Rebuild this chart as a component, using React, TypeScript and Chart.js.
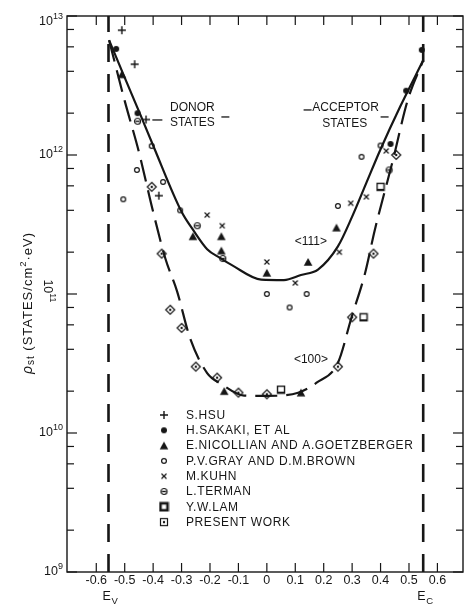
import React, { useEffect, useRef } from 'react';
import { Chart, registerables } from 'chart.js';

Chart.register(...registerables);

const INK = '#161616';
const FONT = '"Liberation Sans", Arial, sans-serif';

// Energy axis (eV, measured from midgap) and state-density axis
const X_MIN = -0.703;
const X_MAX = 0.69;
const Y_MIN = 1e9;
const Y_MAX = 1e13;

const X_TICKS = [-0.6, -0.5, -0.4, -0.3, -0.2, -0.1, 0, 0.1, 0.2, 0.3, 0.4, 0.5, 0.6];
const X_TICK_LABELS = ['-0.6', '-0.5', '-0.4', '-0.3', '-0.2', '-0.1', '0', '0.1', '0.2', '0.3', '0.4', '0.5', '0.6'];
const Y_DECADES = [9, 10, 11, 12, 13];
const Y_MINOR_MULTIPLES = [2, 4, 6, 8];

// Band edges
const E_V = -0.557;
const E_C = 0.55;

type Pt = [number, number];

// Measured points, one array per source
const HSU: Pt[] = [[-0.51, 7.9e12], [-0.465, 4.5e12], [-0.425, 1.8e12], [-0.38, 5.1e11]];
const SAKAKI: Pt[] = [[-0.53, 5.8e12], [-0.455, 2.0e12], [0.435, 1.2e12], [0.49, 2.9e12], [0.545, 5.7e12]];
const NICOLLIAN: Pt[] = [
  [-0.51, 3.8e12], [-0.26, 2.6e11], [-0.16, 2.6e11], [-0.16, 2.05e11], [0, 1.42e11],
  [0.145, 1.7e11], [0.245, 3.0e11], [-0.15, 2.0e10], [0.12, 1.95e10],
];
const GRAY_BROWN: Pt[] = [
  [-0.505, 4.8e11], [-0.457, 7.8e11], [-0.405, 1.16e12], [-0.365, 6.4e11], [-0.305, 4.0e11],
  [0, 1.0e11], [0.08, 8.0e10], [0.14, 1.0e11], [0.25, 4.3e11], [0.333, 9.7e11], [0.4, 1.17e12],
];
const KUHN: Pt[] = [
  [-0.21, 3.7e11], [-0.157, 3.1e11], [0, 1.7e11], [0.1, 1.2e11], [0.255, 2.0e11],
  [0.295, 4.5e11], [0.35, 5.0e11], [0.42, 1.07e12],
];
const TERMAN: Pt[] = [[-0.455, 1.75e12], [-0.245, 3.1e11], [-0.155, 1.8e11], [0.43, 7.8e11]];
const LAM: Pt[] = [[0.05, 2.05e10], [0.34, 6.8e10], [0.4, 5.9e11]];
const PRESENT: Pt[] = [
  [-0.405, 5.9e11], [-0.37, 1.95e11], [-0.34, 7.7e10], [-0.3, 5.7e10], [-0.25, 3.0e10],
  [-0.175, 2.5e10], [-0.1, 1.95e10], [0, 1.9e10], [0.25, 3.0e10], [0.3, 6.8e10],
  [0.375, 1.95e11], [0.455, 1.0e12],
];

// Fitted curves for the two orientations
const CURVE_111: Pt[] = [
  [-0.555, 6.7e12], [-0.5, 3.6e12], [-0.445, 1.95e12], [-0.4, 1.17e12], [-0.3, 3.9e11],
  [-0.26, 2.9e11], [-0.21, 2.1e11], [-0.165, 1.82e11], [-0.12, 1.6e11], [-0.02, 1.27e11],
  [0.06, 1.26e11], [0.12, 1.37e11], [0.18, 1.5e11], [0.25, 2.2e11], [0.3, 3.6e11],
  [0.35, 6.3e11], [0.4, 1.1e12], [0.47, 2.25e12], [0.55, 4.8e12],
];
const CURVE_100: Pt[] = [
  [-0.555, 6.7e12], [-0.5, 2.45e12], [-0.45, 1.05e12], [-0.4, 3.9e11], [-0.357, 1.8e11],
  [-0.316, 1.05e11], [-0.27, 4.8e10], [-0.21, 2.7e10], [-0.16, 2.25e10], [-0.08, 1.86e10],
  [0, 1.85e10], [0.11, 1.95e10], [0.175, 2.3e10], [0.25, 3.2e10], [0.298, 6.8e10],
  [0.345, 1.4e11], [0.38, 2.9e11], [0.443, 9.1e11], [0.496, 2.5e12], [0.55, 4.8e12],
];

const SERIES_LABELS = [
  'S.HSU',
  'H.SAKAKI, ET AL',
  'E.NICOLLIAN AND A.GOETZBERGER',
  'P.V.GRAY AND D.M.BROWN',
  'M.KUHN',
  'L.TERMAN',
  'Y.W.LAM',
  'PRESENT WORK',
];

// Text placed in data coordinates
const NOTES: { text: string; x: number; y: number }[] = [
  { text: 'DONOR', x: -0.262, y: 2.18e12 },
  { text: 'STATES', x: -0.262, y: 1.7e12 },
  { text: 'ACCEPTOR', x: 0.277, y: 2.18e12 },
  { text: 'STATES', x: 0.274, y: 1.68e12 },
  { text: '<111>', x: 0.155, y: 2.37e11 },
  { text: '<100>', x: 0.155, y: 3.35e10 },
];

const toXY = (pts: Pt[]) => pts.map(([x, y]) => ({ x, y }));

function stamp(size: number, draw: (g: CanvasRenderingContext2D, c: number) => void) {
  const cv = document.createElement('canvas');
  cv.width = size;
  cv.height = size;
  const g = cv.getContext('2d') as CanvasRenderingContext2D;
  g.strokeStyle = INK;
  g.fillStyle = INK;
  draw(g, size / 2);
  return cv;
}

function buildMarkers() {
  const TAU = Math.PI * 2;
  const plus = stamp(10, (g, c) => {
    g.lineWidth = 1.4;
    g.beginPath();
    g.moveTo(1, c); g.lineTo(9, c);
    g.moveTo(c, 1); g.lineTo(c, 9);
    g.stroke();
  });
  const dot = stamp(8, (g, c) => {
    g.beginPath(); g.arc(c, c, 3, 0, TAU); g.fill();
  });
  const tri = stamp(10, (g) => {
    g.beginPath(); g.moveTo(5, 1); g.lineTo(9.3, 8.8); g.lineTo(0.7, 8.8); g.closePath(); g.fill();
  });
  const ring = stamp(8, (g, c) => {
    g.lineWidth = 1.2; g.beginPath(); g.arc(c, c, 2.4, 0, TAU); g.stroke();
  });
  const cross = stamp(8, (g) => {
    g.lineWidth = 1.2;
    g.beginPath();
    g.moveTo(1.5, 1.5); g.lineTo(6.5, 6.5);
    g.moveTo(6.5, 1.5); g.lineTo(1.5, 6.5);
    g.stroke();
  });
  const terman = stamp(9, (g, c) => {
    g.lineWidth = 1.2; g.beginPath(); g.arc(c, c, 3, 0, TAU); g.stroke();
    g.fillRect(c - 2, c - 0.7, 4, 1.4);
  });
  const lam = stamp(10, (g) => {
    g.lineWidth = 1.4; g.strokeRect(1.5, 1.5, 7, 7); g.fillRect(1.5, 7, 7, 2);
  });
  const lamKey = stamp(11, (g) => {
    g.lineWidth = 2.6; g.strokeRect(2, 2, 7, 7);
  });
  const present = stamp(12, (g, c) => {
    g.lineWidth = 1.2;
    g.beginPath(); g.moveTo(c, 1.5); g.lineTo(10.5, c); g.lineTo(c, 10.5); g.lineTo(1.5, c); g.closePath(); g.stroke();
    g.beginPath(); g.arc(c, c, 1.2, 0, TAU); g.fill();
  });
  const presentKey = stamp(10, (g, c) => {
    g.lineWidth = 1.2; g.strokeRect(1.5, 1.5, 7, 7);
    g.beginPath(); g.arc(c, c, 1.2, 0, TAU); g.fill();
  });
  return {
    plot: [plus, dot, tri, ring, cross, terman, lam, present],
    key: [plus, dot, tri, ring, cross, terman, lamKey, presentKey],
  };
}

export default function App() {
  const ref = useRef<HTMLCanvasElement | null>(null);

  useEffect(() => {
    const canvas = ref.current;
    if (!canvas) return;
    const markers = buildMarkers();
    const sources = [HSU, SAKAKI, NICOLLIAN, GRAY_BROWN, KUHN, TERMAN, LAM, PRESENT];

    const pointSets = sources.map((pts, i) => ({
      label: SERIES_LABELS[i],
      data: toXY(pts),
      showLine: false,
      pointStyle: markers.plot[i],
      pointRadius: 3,
      order: 0,
    }));

    const edgeLine = (x: number) => ({
      label: 'edge',
      data: [{ x, y: Y_MIN }, { x, y: Y_MAX }],
      showLine: true,
      borderColor: INK,
      borderWidth: 2.6,
      borderDash: [18, 12],
      pointRadius: 0,
      order: 2,
    });

    const overlay = {
      id: 'overlay',
      afterDraw(chart: any) {
        const { ctx, chartArea: a } = chart;
        const xs = chart.scales.x;
        const ys = chart.scales.y;
        ctx.save();
        ctx.strokeStyle = INK;
        ctx.fillStyle = INK;
        ctx.lineWidth = 1.4;
        ctx.strokeRect(a.left, a.top, a.right - a.left, a.bottom - a.top);

        const seg = (x1: number, y1: number, x2: number, y2: number) => {
          ctx.beginPath(); ctx.moveTo(x1, y1); ctx.lineTo(x2, y2); ctx.stroke();
        };

        // inward ticks
        ctx.lineWidth = 1.2;
        X_TICKS.forEach((v) => {
          const px = xs.getPixelForValue(v);
          seg(px, a.bottom, px, a.bottom - 9);
          seg(px, a.top, px, a.top + 9);
        });
        Y_DECADES.forEach((d) => {
          const py = ys.getPixelForValue(Math.pow(10, d));
          seg(a.left, py, a.left + 10, py);
          seg(a.right, py, a.right - 10, py);
          if (d < 13) {
            Y_MINOR_MULTIPLES.forEach((m) => {
              const q = ys.getPixelForValue(m * Math.pow(10, d));
              seg(a.left, q, a.left + 7, q);
              seg(a.right, q, a.right - 7, q);
            });
          }
        });

        // x tick labels
        ctx.font = `12.5px ${FONT}`;
        ctx.textAlign = 'center';
        ctx.textBaseline = 'middle';
        X_TICKS.forEach((v, i) => {
          ctx.fillText(X_TICK_LABELS[i], xs.getPixelForValue(v), a.bottom + 9);
        });

        // band edge names
        [[E_V, 'V'], [E_C, 'C']].forEach(([v, sub]) => {
          const px = xs.getPixelForValue(v as number);
          ctx.textAlign = 'left';
          ctx.font = `12.5px ${FONT}`;
          ctx.fillText('E', px - 6, a.bottom + 25);
          ctx.font = `9.5px ${FONT}`;
          ctx.fillText(sub as string, px + 3, a.bottom + 29);
        });

        // y tick labels: powers of ten
        Y_DECADES.forEach((d) => {
          const py = ys.getPixelForValue(Math.pow(10, d));
          const sup = String(d);
          ctx.font = `9px ${FONT}`;
          const wSup = ctx.measureText(sup).width;
          ctx.font = `12.5px ${FONT}`;
          const wBase = ctx.measureText('10').width;
          ctx.textAlign = 'left';
          ctx.textBaseline = 'middle';
          if (d === 11) {
            ctx.save();
            ctx.translate(a.left - 20, py - 3);
            ctx.rotate(Math.PI / 2);
            const start = -(wBase + wSup) / 2;
            ctx.font = `12.5px ${FONT}`;
            ctx.fillText('10', start, 0);
            ctx.font = `9px ${FONT}`;
            ctx.fillText(sup, start + wBase, -5);
            ctx.restore();
          } else {
            const off = d === 13 ? 6 : 0;
            const right = a.left - 4;
            ctx.font = `12.5px ${FONT}`;
            ctx.fillText('10', right - wSup - wBase, py + off);
            ctx.font = `9px ${FONT}`;
            ctx.fillText(sup, right - wSup, py + off - 5);
          }
        });

        // y axis title
        ctx.save();
        ctx.translate(28, (a.top + a.bottom) / 2 + 9);
        ctx.rotate(-Math.PI / 2);
        const parts: [string, string, number][] = [
          ['ρ', `italic 14px ${FONT}`, 0],
          ['st', `10px ${FONT}`, 3],
          [' (STATES/cm', `13px ${FONT}`, 0],
          ['2', `9.5px ${FONT}`, -5],
          ['·eV)', `13px ${FONT}`, 0],
        ];
        (ctx as any).letterSpacing = '1px';
        let total = 0;
        parts.forEach(([t, f]) => { ctx.font = f; total += ctx.measureText(t).width; });
        let cx = -total / 2;
        ctx.textAlign = 'left';
        ctx.textBaseline = 'middle';
        parts.forEach(([t, f, dy]) => {
          ctx.font = f;
          ctx.fillText(t, cx, dy);
          cx += ctx.measureText(t).width;
        });
        ctx.restore();

        // notes
        ctx.font = `12px ${FONT}`;
        ctx.textAlign = 'center';
        ctx.textBaseline = 'middle';
        const notePx = NOTES.map((n) => [xs.getPixelForValue(n.x), ys.getPixelForValue(n.y)]);
        NOTES.forEach((n, i) => ctx.fillText(n.text, notePx[i][0], notePx[i][1]));
        ctx.lineWidth = 1.3;
        const [dx, dy] = notePx[1];
        seg(dx - 40, dy - 3, dx - 30, dy - 3);
        seg(dx + 29, dy - 6, dx + 37, dy - 6);
        const [ax, ay] = notePx[2];
        seg(ax - 42, ay + 2, ax - 34, ay + 2);
        seg(ax + 35, ay + 9, ax + 43, ay + 9);

        // key
        ctx.font = `12px ${FONT}`;
        (ctx as any).letterSpacing = '0.6px';
        ctx.textAlign = 'left';
        SERIES_LABELS.forEach((label, i) => {
          const y = 415 + i * 15.3;
          const m = markers.key[i];
          ctx.drawImage(m, 164 - m.width / 2, y - m.height / 2);
          ctx.fillText(label, 186, y + 0.5);
        });
        ctx.restore();
      },
    };

    const chart = new Chart(canvas, {
      type: 'scatter',
      data: {
        datasets: [
          ...pointSets,
          {
            label: '<111>',
            data: toXY(CURVE_111),
            showLine: true,
            borderColor: INK,
            borderWidth: 2.2,
            cubicInterpolationMode: 'monotone',
            pointRadius: 0,
            order: 1,
          },
          {
            label: '<100>',
            data: toXY(CURVE_100),
            showLine: true,
            borderColor: INK,
            borderWidth: 2.2,
            borderDash: [22, 9],
            cubicInterpolationMode: 'monotone',
            pointRadius: 0,
            order: 1,
          },
          edgeLine(E_V),
          edgeLine(E_C),
        ] as any,
      },
      options: {
        animation: false,
        responsive: false,
        maintainAspectRatio: false,
        layout: { padding: { top: 16, right: 3, left: 0, bottom: 0 } },
        plugins: { legend: { display: false }, tooltip: { enabled: false } },
        scales: {
          x: {
            type: 'linear',
            min: X_MIN,
            max: X_MAX,
            ticks: { display: false },
            grid: { display: false },
            border: { display: false },
            afterFit: (s: any) => { s.height = 34; },
          },
          y: {
            type: 'logarithmic',
            min: Y_MIN,
            max: Y_MAX,
            ticks: { display: false },
            grid: { display: false },
            border: { display: false },
            afterFit: (s: any) => { s.width = 67; },
          },
        },
      } as any,
      plugins: [overlay],
    });

    return () => chart.destroy();
  }, []);

  return (
    <div style={{ position: 'absolute', left: 0, top: 0, width: 468, height: 606, background: '#fff' }}>
      <canvas ref={ref} width={468} height={606} style={{ display: 'block' }} />
    </div>
  );
}
